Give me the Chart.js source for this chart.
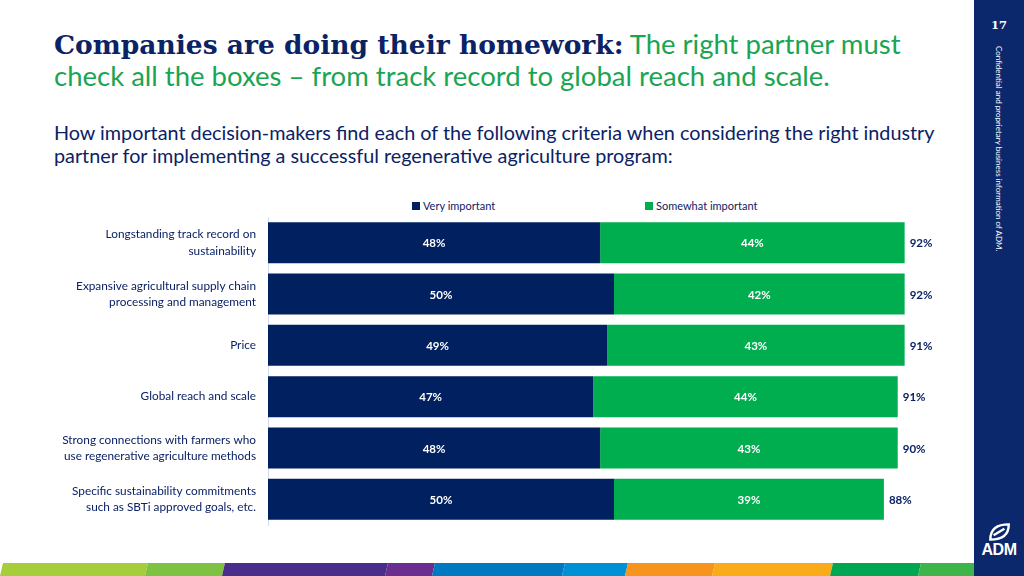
<!DOCTYPE html>
<html>
<head>
<meta charset="utf-8">
<script src="https://cdn.jsdelivr.net/npm/chart.js@4.4.1/dist/chart.umd.min.js"></script>
<style>
  body { margin: 0; width: 1024px; height: 576px; overflow: hidden; background: #fff; position: relative; font-family: Lato, sans-serif; }
  .title { position: absolute; left: 54px; top: 28px; width: 900px; font-size: 27.5px; line-height: 31px; color: #1aa552; white-space: nowrap; }
  .title b { font-family: "DejaVu Serif", serif; font-weight: bold; font-size: 26.5px; color: #0b2265; }
  .sub { position: absolute; left: 54px; top: 121px; font-size: 19.8px; line-height: 23px; color: #0b2265; white-space: nowrap; }
  #legend { position: absolute; top: 199px; left: 0; font-size: 11px; color: #0b2265; }
  #legend span { position: absolute; white-space: nowrap; }
  #legend i { display: inline-block; width: 8px; height: 8px; margin-right: 3px; vertical-align: 0px; }
  #chartBox { position: absolute; left: 0; top: 212px; width: 974px; height: 320px; }
  .side { position: absolute; left: 974px; top: 0; width: 50px; height: 576px; background: #0a286b; }
  .page { position: absolute; left: 0; width: 50px; top: 18px; text-align: center; color: #fff; font-family: "DejaVu Serif", serif; font-weight: bold; font-size: 11.5px; }
  .conf { position: absolute; left: 30px; top: 46px; transform-origin: 0 0; transform: rotate(90deg); color: #fff; font-size: 8px; white-space: nowrap; }
  .logo { position: absolute; left: 0; top: 522px; width: 50px; text-align: center; }
  .logo div { color: #fff; font-family: "Liberation Sans", Arial, sans-serif; font-weight: bold; font-size: 16px; margin-top: -4px; letter-spacing: -0.5px; }
  #stripe { position: absolute; left: 0; top: 563px; }
</style>
</head>
<body>
<div class="title"><b>Companies are doing their homework:</b> The right partner must<br>check all the boxes – from track record to global reach and scale.</div>
<div class="sub">How important decision-makers find each of the following criteria when considering the right industry<br>partner for implementing a successful regenerative agriculture program:</div>
<div id="legend"></div>
<div id="chartBox"><canvas id="myChart" width="974" height="320"></canvas></div>
<svg id="stripe" width="974" height="13"></svg>
<div class="side">
  <div class="page">17</div>
  <div class="conf">Confidential and proprietary business information of ADM.</div>
  <div class="logo">
    <svg width="26" height="20" viewBox="0 0 24 18"><path d="M4 16 C4 6 10 2 21 2 C21 12 15 16 4 16 Z M7 12 L17 6" fill="none" stroke="#fff" stroke-width="2.2"/></svg>
    <div>ADM</div>
  </div>
</div>
<script>
const categories = [
  ['Longstanding track record on', 'sustainability'],
  ['Expansive agricultural supply chain', 'processing and management'],
  'Price',
  'Global reach and scale',
  ['Strong connections with farmers who', 'use regenerative agriculture methods'],
  ['Specific sustainability commitments', 'such as SBTi approved goals, etc.']
];
const seriesNames = ['Very important', 'Somewhat important'];
const veryImportant = [48, 50, 49, 47, 48, 50];
const somewhatImportant = [44, 42, 43, 44, 43, 39];
const totals = [92, 92, 91, 91, 90, 88];

const navy = '#00205f';
const green = '#00ad4f';
const textNavy = '#0b2265';

// legend (html, spaced like the slide)
const legendX = [412, 645];
const legendColors = [navy, green];
const legend = document.getElementById('legend');
seriesNames.forEach((name, i) => {
  const s = document.createElement('span');
  s.style.left = legendX[i] + 'px';
  s.innerHTML = '<i style="background:' + legendColors[i] + '"></i>' + name;
  legend.appendChild(s);
});

// bottom colour stripe
const stripeStops = [0, 145, 222, 385, 432, 562, 625, 712, 830, 918, 980];
const stripeColors = ['#a6ce3a', '#7dc242', '#4a2c8a', '#6a2e91', '#0079c1', '#0090d5', '#f7941e', '#f9ab1a', '#00a651', '#3eb54a'];
const stripe = document.getElementById('stripe');
stripeColors.forEach((c, i) => {
  const x0 = stripeStops[i], x1 = stripeStops[i + 1];
  const p = document.createElementNS('http://www.w3.org/2000/svg', 'polygon');
  p.setAttribute('points', `${x0 + 3},0 ${x1 + 3},0 ${x1},13 ${x0},13`);
  p.setAttribute('fill', c);
  stripe.appendChild(p);
});

const barLabels = {
  id: 'barLabels',
  afterDatasetsDraw(chart) {
    const ctx = chart.ctx;
    ctx.save();
    ctx.font = 'bold 11.5px Lato';
    ctx.textBaseline = 'middle';
    chart.data.datasets.forEach((ds, di) => {
      chart.getDatasetMeta(di).data.forEach((bar, i) => {
        const {x, y, base} = bar.getProps(['x', 'y', 'base'], true);
        ctx.fillStyle = '#fff';
        ctx.textAlign = 'center';
        ctx.fillText(ds.data[i] + '%', (x + base) / 2, y + 1);
      });
    });
    const last = chart.getDatasetMeta(chart.data.datasets.length - 1);
    last.data.forEach((bar, i) => {
      const {x, y} = bar.getProps(['x', 'y'], true);
      ctx.fillStyle = textNavy;
      ctx.textAlign = 'left';
      ctx.fillText(totals[i] + '%', x + 5, y + 1);
    });
    ctx.restore();
  }
};

const ctx = document.getElementById('myChart');
new Chart(ctx, {
  type: 'bar',
  data: {
    labels: categories,
    datasets: [
      {label: seriesNames[0], data: veryImportant, backgroundColor: navy, barPercentage: 0.8, categoryPercentage: 1},
      {label: seriesNames[1], data: somewhatImportant, backgroundColor: green, barPercentage: 0.8, categoryPercentage: 1}
    ]
  },
  options: {
    indexAxis: 'y',
    responsive: false,
    animation: false,
    layout: {padding: {top: 5, bottom: 7, right: 14}},
    plugins: {
      legend: {display: false},
      tooltip: {enabled: false}
    },
    scales: {
      x: {stacked: true, min: 0, max: 100, display: false},
      y: {
        stacked: true,
        grid: {display: false, drawTicks: false},
        border: {color: '#d3dcee'},
        ticks: {color: textNavy, font: {family: 'Lato', size: 11.8, lineHeight: 1.38}, padding: 12},
        afterFit(scale) {
          scale.width = 268;
          scale.paddingTop = 0;
          scale.paddingBottom = 0;
        }
      }
    }
  },
  plugins: [barLabels]
});
</script>
</body>
</html>
